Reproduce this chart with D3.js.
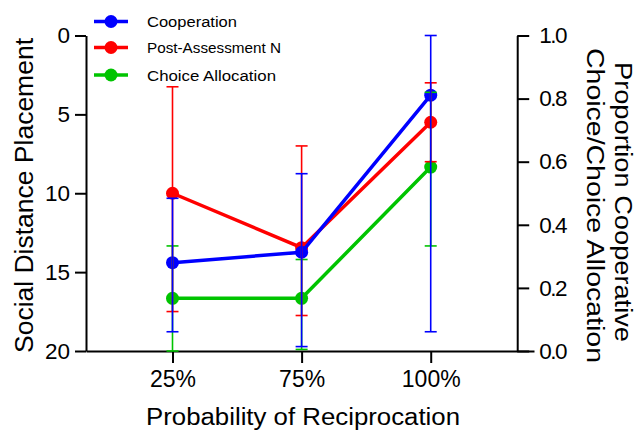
<!DOCTYPE html>
<html>
<head>
<meta charset="utf-8">
<script src="https://cdn.jsdelivr.net/npm/d3@7"></script>
<style>
  html, body { margin: 0; padding: 0; background: #fff; }
  svg { display: block; }
  text { font-family: "Liberation Sans", Arial, sans-serif; fill: #000; }
</style>
</head>
<body>
<svg id="chart" width="638" height="430"></svg>
<script>
// Condition labels and their positions along the x axis
const categories = ["25%", "75%", "100%"];
const categoryPos = [1, 2, 3];

// Cooperation (proportion, right axis): mean, lower and upper error limits
const cooperation   = [0.28, 0.313, 0.811];
const cooperationLo = [0.061, 0.014, 0.061];
const cooperationHi = [0.484, 0.562, 1.0];

// Post-Assessment N (social distance, left axis)
const postN   = [10.0, 13.45, 5.5];
const postNLo = [3.25, 7.0, 3.0];
const postNHi = [17.5, 17.75, 8.0];

// Choice Allocation (proportion, right axis)
const choice   = [0.167, 0.167, 0.583];
const choiceLo = [0.0, 0.005, 0.333];
const choiceHi = [0.333, 0.29, 0.82];

// Axis ticks
const leftTicks = [0, 5, 10, 15, 20];
const rightTicks = [0, 0.2, 0.4, 0.6, 0.8, 1.0];

const svg = d3.select("#chart");

const x = d3.scaleLinear().domain([0.33, 3.8]).range([86, 534]);
const yLeft = d3.scaleLinear().domain([0, 20]).range([35.5, 351]);
const yRight = d3.scaleLinear().domain([0, 1]).range([351, 35.5]);
const rightAxisX = x(3.67);

const fontFamily = '"Liberation Sans", Arial, sans-serif';

// Left axis (Social Distance Placement, inverted)
const gLeft = svg.append("g")
  .attr("transform", `translate(${x.range()[0]},0)`)
  .call(d3.axisLeft(yLeft).tickValues(leftTicks).tickSize(11).tickSizeOuter(0).tickPadding(5));

// Right axis (proportion)
const gRight = svg.append("g")
  .attr("transform", `translate(${rightAxisX},0)`)
  .call(d3.axisRight(yRight).tickValues(rightTicks).tickSize(12).tickSizeOuter(0).tickPadding(10)
    .tickFormat(d3.format(".1f")));

// Bottom axis
const gBottom = svg.append("g")
  .attr("transform", `translate(0,${yLeft.range()[1]})`)
  .call(d3.axisBottom(x).tickValues(categoryPos).tickSize(12).tickSizeOuter(0).tickPadding(8)
    .tickFormat((d, i) => categories[i]));

[gLeft, gRight, gBottom].forEach(g => {
  g.selectAll("path.domain").attr("stroke", "#000").attr("stroke-width", 2);
  g.selectAll(".tick line").attr("stroke", "#000").attr("stroke-width", 2);
  g.selectAll(".tick text").style("font-size", "22.5px")
    .style("font-family", fontFamily).attr("fill", "#000");
});
gBottom.selectAll(".tick text").style("font-size", "23px");
gRight.selectAll(".tick text").attr("letter-spacing", "-1.5px");

// Axis titles
svg.append("text")
  .attr("transform", `translate(33,195.5) rotate(-90)`)
  .attr("text-anchor", "middle")
  .attr("textLength", 315).attr("lengthAdjust", "spacingAndGlyphs")
  .style("font-size", "26.5px")
  .text("Social Distance Placement");

svg.append("text")
  .attr("x", 303)
  .attr("y", 425)
  .attr("text-anchor", "middle")
  .attr("textLength", 314).attr("lengthAdjust", "spacingAndGlyphs")
  .style("font-size", "23.5px")
  .text("Probability of Reciprocation");

svg.append("text")
  .attr("transform", `translate(615,202) rotate(90)`)
  .attr("text-anchor", "middle")
  .attr("textLength", 280).attr("lengthAdjust", "spacingAndGlyphs")
  .style("font-size", "23.5px")
  .text("Proportion Cooperative");
svg.append("text")
  .attr("transform", `translate(586.5,205.5) rotate(90)`)
  .attr("text-anchor", "middle")
  .attr("textLength", 315).attr("lengthAdjust", "spacingAndGlyphs")
  .style("font-size", "23.5px")
  .text("Choice/Choice Allocation");

// Series definitions (drawn back to front)
const series = [
  { name: "Choice Allocation", color: "#00c400", y: yRight, mean: choice, lo: choiceLo, hi: choiceHi },
  { name: "Post-Assessment N", color: "#ff0000", y: yLeft, mean: postN, lo: postNLo, hi: postNHi },
  { name: "Cooperation", color: "#0000ff", y: yRight, mean: cooperation, lo: cooperationLo, hi: cooperationHi }
];

const line = (s) => d3.line()
  .x((d, i) => x(categoryPos[i]))
  .y(d => s.y(d));

// Lines and points
series.forEach(s => {
  const g = svg.append("g");
  g.append("path")
    .datum(s.mean)
    .attr("d", line(s))
    .attr("fill", "none")
    .attr("stroke", s.color)
    .attr("stroke-width", 3.5);
  g.selectAll("circle").data(s.mean).join("circle")
    .attr("cx", (d, i) => x(categoryPos[i]))
    .attr("cy", d => s.y(d))
    .attr("r", 6.5)
    .attr("fill", s.color);
});

// Error bars drawn over the markers
const capHalf = 6;
series.forEach(s => {
  const g = svg.append("g").attr("stroke", s.color).attr("stroke-width", 1.6).attr("fill", "none");
  s.mean.forEach((m, i) => {
    const cx = x(categoryPos[i]);
    const y1 = s.y(s.lo[i]), y2 = s.y(s.hi[i]);
    g.append("line").attr("x1", cx).attr("x2", cx).attr("y1", y1).attr("y2", y2);
    [y1, y2].forEach(yy => {
      g.append("line").attr("x1", cx - capHalf).attr("x2", cx + capHalf).attr("y1", yy).attr("y2", yy);
    });
  });
});

// Legend
const legendItems = [
  { name: "Cooperation", color: "#0000ff", width: 90 },
  { name: "Post-Assessment N", color: "#ff0000", width: 134 },
  { name: "Choice Allocation", color: "#00c400", width: 129 }
];
const legendY = [21.5, 47.5, 75];
const lg = svg.append("g");
legendItems.forEach((item, i) => {
  const row = lg.append("g").attr("transform", `translate(0,${legendY[i]})`);
  row.append("line").attr("x1", 94).attr("x2", 128).attr("y1", 0).attr("y2", 0)
    .attr("stroke", item.color).attr("stroke-width", 3.5);
  row.append("circle").attr("cx", 111).attr("cy", 0).attr("r", 6.5).attr("fill", item.color);
  row.append("text").attr("x", 147).attr("y", 0).attr("dy", "0.36em")
    .attr("textLength", item.width).attr("lengthAdjust", "spacingAndGlyphs")
    .style("font-size", "15.5px")
    .text(item.name);
});
</script>
</body>
</html>
